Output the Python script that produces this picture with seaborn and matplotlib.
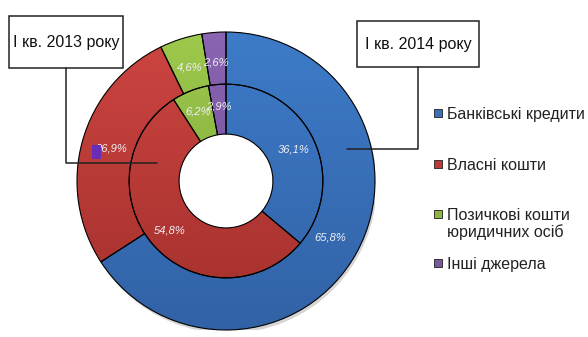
import numpy as np
import matplotlib
matplotlib.use("Agg")
import matplotlib.pyplot as plt
import seaborn as sns
from matplotlib.patches import Rectangle, Circle
from matplotlib.colors import LinearSegmentedColormap

# Structure of funding sources (%), two periods
categories = ["Банківські кредити", "Власні кошти",
              "Позичкові кошти\nюридичних осіб", "Інші джерела"]
share_2013 = [36.1, 54.8, 6.2, 2.9]   # inner ring
share_2014 = [65.8, 26.9, 4.6, 2.6]   # outer ring
period_labels = ["I кв. 2013 року", "I кв. 2014 року"]

# light (top) / dark (bottom) shade for each category
shade_top = ["#3D7BC8", "#CD4541", "#9DC94C", "#8A65B2"]
shade_bottom = ["#3262A6", "#A22F2C", "#7B9F39", "#6B4A92"]
legend_colors = ["#3A70B8", "#BE3A37", "#8DB543", "#7A589F"]

sns.set_theme(style="white")
plt.rcParams["font.family"] = ["Liberation Sans", "DejaVu Sans"]

W, H = 588, 337
fig = plt.figure(figsize=(W / 100, H / 100), dpi=100)
fig.patch.set_facecolor("white")

cx, cy, R = 226, 181, 149
ax = fig.add_axes([(cx - R) / W, (H - cy - R) / H, 2 * R / W, 2 * R / H])

hole, mid = 0.315, 0.65
wp = dict(edgecolor="black", linewidth=0.8)
outer, _ = ax.pie(share_2014, radius=1.0, startangle=90, counterclock=False,
                  wedgeprops=dict(width=1.0 - mid, **wp))
inner, _ = ax.pie(share_2013, radius=mid, startangle=90, counterclock=False,
                  wedgeprops=dict(width=mid - hole, **wp))

# soft shadow under the outer ring, kept out of the centre hole
ax.add_patch(Circle((0.012, -0.022), 1.0, facecolor="#c4c4c4", edgecolor="none",
                    alpha=0.7, zorder=0))
ax.add_patch(Circle((0, 0), hole, facecolor="white", edgecolor="none",
                    zorder=1))

grad = np.linspace(0, 1, 256).reshape(-1, 1)
for wedges in (outer, inner):
    for i, w in enumerate(wedges):
        cmap = LinearSegmentedColormap.from_list(
            f"shade{i}", [shade_bottom[i], shade_top[i]])
        w.set_facecolor("none")
        w.set_zorder(3)
        im = ax.imshow(grad, extent=[-1, 1, -1, 1], origin="lower", cmap=cmap,
                       aspect="auto", interpolation="bilinear", zorder=2)
        im.set_clip_path(w)


def pct(v):
    return f"{v:.1f}%".replace(".", ",")


# pixel-space overlay for callouts and legend
ax_over = fig.add_axes([0, 0, 1, 1])
ax_over.set_xlim(0, W)
ax_over.set_ylim(H, 0)
ax_over.axis("off")
# stray legend-key square left behind the 26,9% label
ax_over.add_patch(Rectangle((92, 145), 9, 14, facecolor="#6A2DB8",
                            edgecolor="none", zorder=1))

for wedges, vals, r in ((outer, share_2014, 0.80), (inner, share_2013, 0.50)):
    for w, v in zip(wedges, vals):
        ang = np.deg2rad((w.theta1 + w.theta2) / 2)
        ax.text(r * np.cos(ang), r * np.sin(ang), pct(v), ha="center",
                va="center", fontsize=8, style="italic", color="#EEEEF4",
                zorder=5)

ax.set_xlim(-1, 1)
ax.set_ylim(-1, 1)
ax.set_aspect("equal")
ax.axis("off")

# period callouts with leader lines
box_rects = [(9, 16, 114, 52), (357, 21, 122, 46)]
leaders = [[(66, 68), (66, 163), (157, 163)],
           [(418, 67), (418, 149), (347, 149)]]
for (bx, by, bw, bh), pts, label in zip(box_rects, leaders, period_labels):
    ax_over.add_patch(Rectangle((bx, by), bw, bh, facecolor="white",
                                edgecolor="#222222", linewidth=1.1, zorder=4))
    ax_over.text(bx + bw / 2, by + bh / 2, label, ha="center", va="center",
                 fontsize=11.5, color="#111111", zorder=5)
    xs, ys = zip(*pts)
    ax_over.plot(xs, ys, color="#222222", linewidth=1.1, zorder=4)

# legend
leg_y = [113, 164, 214, 263]
for lab, col, y in zip(categories, legend_colors, leg_y):
    ax_over.add_patch(Rectangle((434, y - 4), 8, 8, facecolor=col,
                                edgecolor="#333333", linewidth=0.7, zorder=4))
    for k, line in enumerate(lab.split("\n")):
        ax_over.text(447, y + 5.5 + 18 * k, line, ha="left", va="baseline",
                     fontsize=11.5, color="#222222", zorder=5)

fig.savefig("out.png", dpi=100, facecolor="white")
